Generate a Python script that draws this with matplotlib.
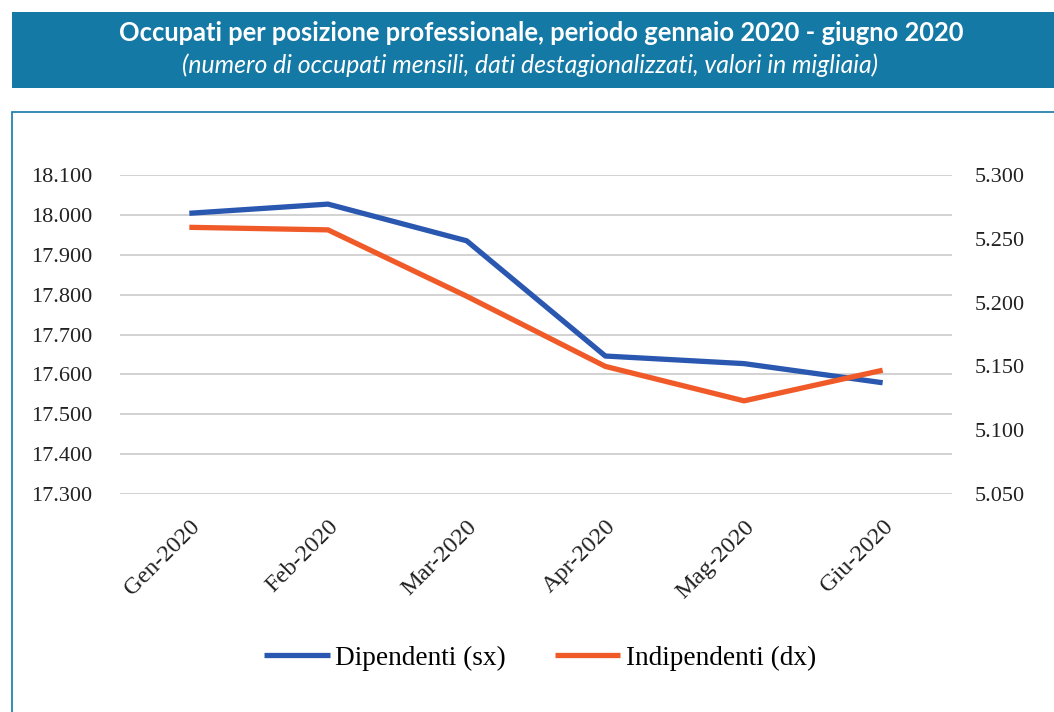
import matplotlib.pyplot as plt
from matplotlib.patches import Rectangle

MONTHS = ['Gen-2020', 'Feb-2020', 'Mar-2020', 'Apr-2020', 'Mag-2020', 'Giu-2020']
DIPENDENTI = [18004, 18027, 17935, 17646, 17627, 17579]
INDIPENDENTI = [5.259, 5.257, 5.205, 5.150, 5.123, 5.147]

LEFT_TICKS = [17300, 17400, 17500, 17600, 17700, 17800, 17900, 18000, 18100]
LEFT_LABELS = ['17.300', '17.400', '17.500', '17.600', '17.700', '17.800', '17.900', '18.000', '18.100']
RIGHT_TICKS = [5.05, 5.10, 5.15, 5.20, 5.25, 5.30]
RIGHT_LABELS = ['5.050', '5.100', '5.150', '5.200', '5.250', '5.300']

TITLE = 'Occupati per posizione professionale, periodo gennaio 2020 - giugno 2020'
SUBTITLE = '(numero di occupati mensili, dati destagionalizzati, valori in migliaia)'

BLUE = '#2a57b0'
ORANGE = '#f05a28'
HEADER = '#1479a5'
SERIF = 'Liberation Serif'
TICK_SIZE = 16

W, H = 1054, 712
fig = plt.figure(figsize=(W / 100, H / 100), dpi=100)

# header band and chart frame, in figure coords
fig.patches.append(Rectangle((12 / W, 1 - 88 / H), 1, 76 / H, transform=fig.transFigure,
                             facecolor=HEADER, edgecolor='none', zorder=-2))
fig.patches.append(Rectangle((12 / W, -0.01), 1.2, 1 - 112 / H + 0.01, transform=fig.transFigure,
                             facecolor='white', edgecolor=HEADER, linewidth=1.2, zorder=-2))
fig.text(0.5 + 14 / W, 1 - 33 / H, TITLE, ha='center', va='center', color='white',
         fontsize=18.4, fontweight='bold', family='Lato')
fig.text(0.5 + 3 / W, 1 - 65 / H, SUBTITLE, ha='center', va='center', color='white',
         fontsize=17.8, style='italic', family='Lato')

ax = fig.add_axes([120 / W, 1 - 494 / H, 832 / W, 319 / H])
ax.patch.set_alpha(0)
x = list(range(len(MONTHS)))
l1, = ax.plot(x, DIPENDENTI, color=BLUE, lw=3.8, solid_capstyle='butt', zorder=3)
ax.set_xlim(-0.5, len(MONTHS) - 0.5)
ax.set_ylim(LEFT_TICKS[0], LEFT_TICKS[-1])
ax.set_yticks(LEFT_TICKS)
ax.set_yticklabels(LEFT_LABELS, family=SERIF, fontsize=TICK_SIZE, color='#222222')
ax.set_xticks(x)
ax.set_xticklabels(MONTHS, family=SERIF, fontsize=17.5, rotation=45, ha='right',
                   rotation_mode='anchor', color='#222222')
ax.tick_params(axis='y', length=0, pad=20)
ax.tick_params(axis='x', length=0, pad=16)
ax.grid(axis='y', color='#cfcfcf', lw=1.3)
ax.set_axisbelow(True)
for s in ax.spines.values():
    s.set_visible(False)

ax2 = ax.twinx()
l2, = ax2.plot(x, INDIPENDENTI, color=ORANGE, lw=3.8, solid_capstyle='butt', zorder=3)
ax2.set_ylim(RIGHT_TICKS[0], RIGHT_TICKS[-1])
ax2.set_yticks(RIGHT_TICKS)
ax2.set_yticklabels(RIGHT_LABELS, family=SERIF, fontsize=TICK_SIZE, color='#222222')
ax2.tick_params(axis='y', length=0, pad=16)
for s in ax2.spines.values():
    s.set_visible(False)

fig.legend([l1, l2], ['Dipendenti (sx)', 'Indipendenti (dx)'], loc='center',
           bbox_to_anchor=(540 / W, 1 - 658 / H), ncol=2, frameon=False,
           prop={'family': SERIF, 'size': 19.6}, handlelength=2.4, handletextpad=0.2,
           columnspacing=1.8)

fig.savefig('out.png', dpi=100)
